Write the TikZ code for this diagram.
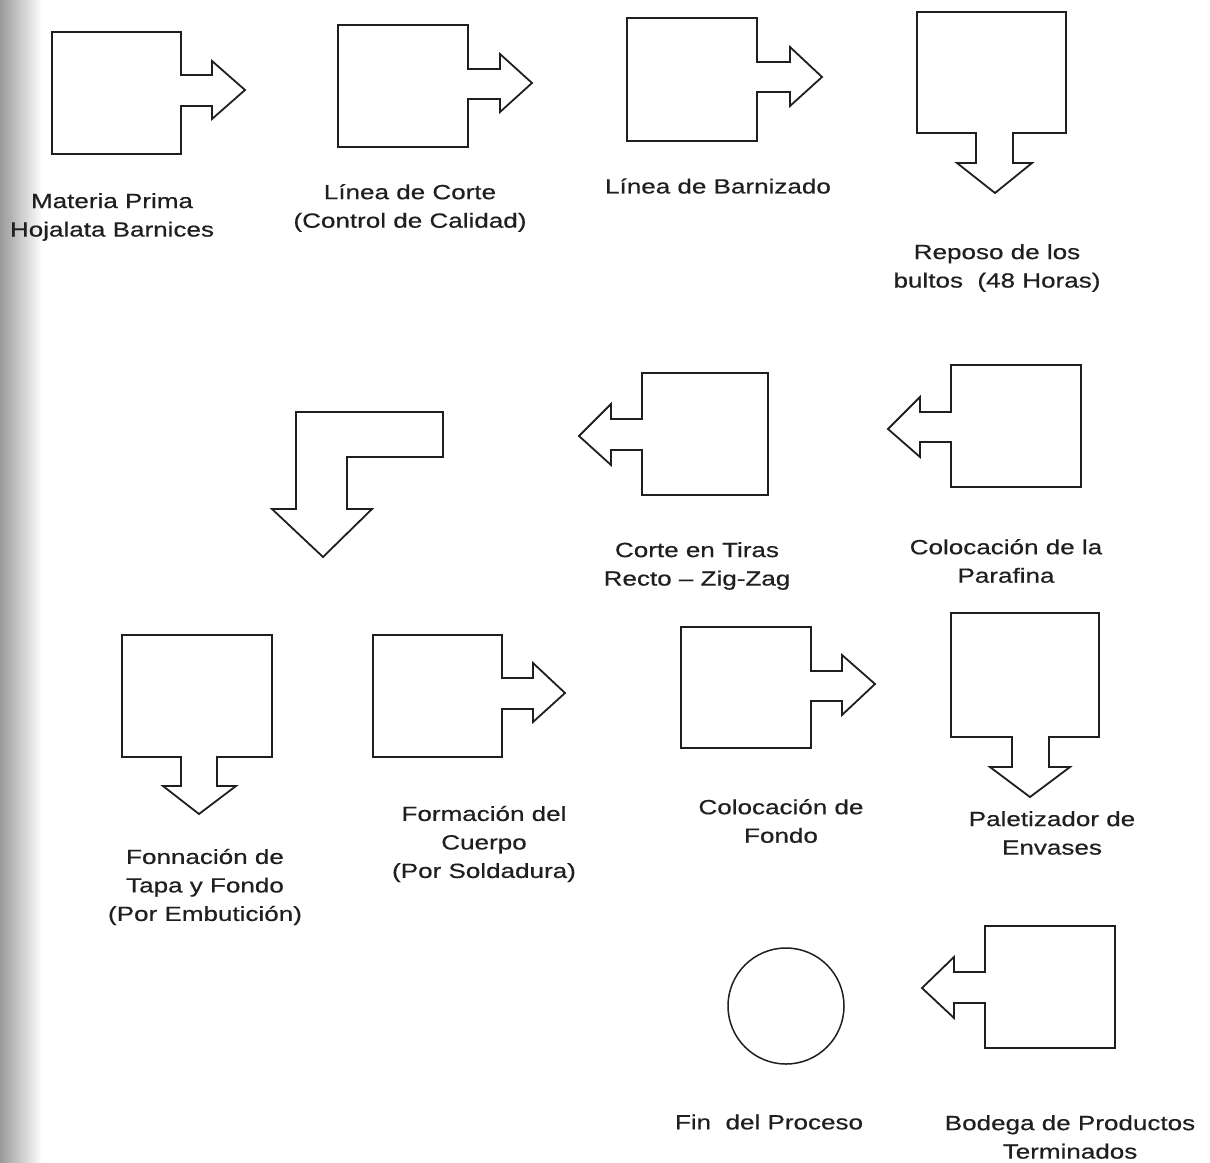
\documentclass[tikz,border=0pt]{standalone}
\usepackage{fontspec}
\setmainfont{Liberation Sans}
\newfontfamily\lblfont[FakeStretch=1.27,FakeBold=0.5]{Liberation Sans}
\begin{document}
\begin{tikzpicture}[x=1pt,y=-1pt,
  shp/.style={draw=black!88, line width=1.8pt, line join=miter},
  lbl/.style={font=\lblfont\fontsize{20.5}{28.5}\selectfont, align=center, text=black!88, inner sep=0pt}]
\useasboundingbox (0,0) rectangle (1210,1162);
\shade[left color=black!40, right color=white] (0,0) rectangle (42,1162);
% shapes
\draw[shp] (52,32) -- (181,32) -- (181,75) -- (212,75) -- (212,61) -- (245,90) -- (212,119) -- (212,106) -- (181,106) -- (181,154) -- (52,154) -- cycle;
\draw[shp] (338,25) -- (468,25) -- (468,69) -- (500,69) -- (500,54) -- (532,83) -- (500,112) -- (500,99) -- (468,99) -- (468,147) -- (338,147) -- cycle;
\draw[shp] (627,18) -- (757,18) -- (757,62) -- (790,62) -- (790,47) -- (822,77) -- (790,106) -- (790,92) -- (757,92) -- (757,141) -- (627,141) -- cycle;
\draw[shp] (917,12) -- (1066,12) -- (1066,133) -- (1013,133) -- (1013,163) -- (1032,163) -- (995,193) -- (957,163) -- (976,163) -- (976,133) -- (917,133) -- cycle;
\draw[shp] (296,412) -- (443,412) -- (443,457) -- (347,457) -- (347,509) -- (372,509) -- (323,557) -- (272,509) -- (296,509) -- cycle;
\draw[shp] (642,373) -- (768,373) -- (768,495) -- (642,495) -- (642,450) -- (611,450) -- (611,465) -- (579,436) -- (611,404) -- (611,419) -- (642,419) -- cycle;
\draw[shp] (951,365) -- (1081,365) -- (1081,487) -- (951,487) -- (951,442) -- (920,442) -- (920,457) -- (888,429) -- (920,397) -- (920,412) -- (951,412) -- cycle;
\draw[shp] (122,635) -- (272,635) -- (272,757) -- (217,757) -- (217,786) -- (236,786) -- (199,814) -- (163,786) -- (181,786) -- (181,757) -- (122,757) -- cycle;
\draw[shp] (373,635) -- (502,635) -- (502,678) -- (533,678) -- (533,663) -- (565,693) -- (533,722) -- (533,709) -- (502,709) -- (502,757) -- (373,757) -- cycle;
\draw[shp] (681,627) -- (811,627) -- (811,671) -- (842,671) -- (842,655) -- (875,684) -- (842,715) -- (842,701) -- (811,701) -- (811,748) -- (681,748) -- cycle;
\draw[shp] (951,613) -- (1099,613) -- (1099,737) -- (1049,737) -- (1049,767) -- (1070,767) -- (1030,797) -- (990,767) -- (1012,767) -- (1012,737) -- (951,737) -- cycle;
\draw[shp] (985,926) -- (1115,926) -- (1115,1048) -- (985,1048) -- (985,1003) -- (954,1003) -- (954,1018) -- (922,988) -- (954,957) -- (954,972) -- (985,972) -- cycle;
\node[circle, draw=black!88, line width=1.5pt, minimum size=116pt, inner sep=0pt] (fin) at (786,1006) {};
% labels
\node[lbl] (t1) at (112,217) {Materia Prima\\Hojalata Barnices};
\node[lbl] (t2) at (410,208) {Línea de Corte\\(Control de Calidad)};
\node[lbl] (t3) at (718,186) {Línea de Barnizado};
\node[lbl] (t4) at (997,268) {Reposo de los\\bultos\ \ (48 Horas)};
\node[lbl] (t5) at (697,566) {Corte en Tiras\\Recto – Zig-Zag};
\node[lbl] (t6) at (1006,561) {Colocación de la\\Parafina};
\node[lbl] (t7) at (205,887) {Fonnación de\\Tapa y Fondo\\(Por Embutición)};
\node[lbl] (t8) at (484,844) {Formación del\\Cuerpo\\(Por Soldadura)};
\node[lbl] (t9) at (781,821) {Colocación de\\Fondo};
\node[lbl] (t10) at (1052,833) {Paletizador de\\Envases};
\node[lbl] (t11) at (769,1122) {Fin\ \ del Proceso};
\node[lbl] (t12) at (1070,1137) {Bodega de Productos\\Terminados};
\end{tikzpicture}
\end{document}
